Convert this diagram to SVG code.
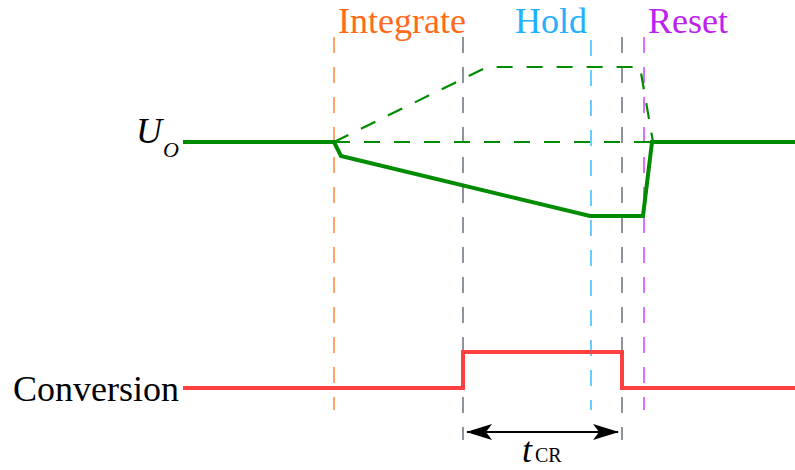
<svg xmlns="http://www.w3.org/2000/svg" width="795" height="470" viewBox="0 0 795 470">
<style>
.lbl{font-family:"Liberation Serif","Times New Roman",serif;font-size:36px}
.vl{stroke-width:1.4;stroke-dasharray:16 14;fill:none}
</style>
<defs>
<marker id="ah" viewBox="0 0 26 16" refX="25" refY="8" markerWidth="26" markerHeight="16" markerUnits="userSpaceOnUse" orient="auto-start-reverse">
<path d="M0,0 L26,8 L0,16 L6,8 Z" fill="#000"/>
</marker>
</defs>
<rect width="795" height="470" fill="#fff"/>
<g id="guides">
<line class="vl" x1="334" y1="37" x2="334" y2="410" stroke="#ff7f2a"/>
<line class="vl" x1="463" y1="37" x2="463" y2="440" stroke="#5c6670"/>
<line class="vl" x1="591" y1="40" x2="591" y2="410" stroke="#2ab7ff"/>
<line class="vl" x1="622" y1="37" x2="622" y2="440" stroke="#5c6670"/>
<line class="vl" x1="644" y1="37" x2="644" y2="410" stroke="#cc33ff"/>
</g>
<g id="labels">
<text class="lbl" x="136" y="143" font-style="italic" font-size="31">U<tspan font-size="22" dy="14" dx="1">O</tspan></text>
<text class="lbl" x="338" y="33" fill="#ff6a1a">Integrate</text>
<text class="lbl" x="515" y="33" fill="#22b0ff">Hold</text>
<text class="lbl" x="648" y="33" fill="#bb22ee">Reset</text>
<text class="lbl" x="13" y="401">Conversion</text>
<text class="lbl" x="522" y="462" font-style="italic" font-size="35">t<tspan font-style="normal" font-size="20" dx="3">CR</tspan></text>
</g>
<g id="connectors">
<polyline points="334,142 487,67 640,67 653,142" fill="none" stroke="#008c00" stroke-width="2.2" stroke-dasharray="16 14"/>
<line x1="334" y1="142" x2="653" y2="142" stroke="#008c00" stroke-width="2.2" stroke-dasharray="16 14"/>
<polyline points="183,142 334,142 341,156 590,216 643,216 652,142 795,142" fill="none" stroke="#008c00" stroke-width="4"/>
<polyline points="183,388 463,388 463,352 622,352 622,388 795,388" fill="none" stroke="#ff4040" stroke-width="4"/>
<line x1="467" y1="432" x2="618" y2="432" stroke="#000" stroke-width="2" marker-start="url(#ah)" marker-end="url(#ah)"/>
</g>
</svg>
